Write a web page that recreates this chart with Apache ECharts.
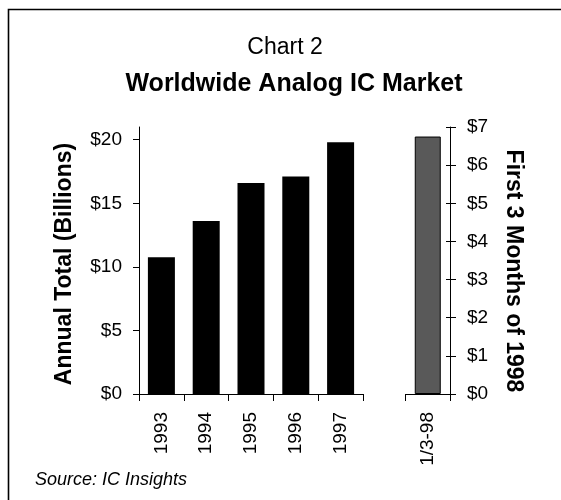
<!DOCTYPE html>
<html>
<head>
<meta charset="utf-8">
<script src="https://cdn.jsdelivr.net/npm/echarts@6/dist/echarts.min.js"></script>
<style>
  html, body { margin: 0; padding: 0; background: #fff; }
  #chart { width: 561px; height: 500px; }
</style>
</head>
<body>
<div id="chart"></div>
<script>
// Annual worldwide analog IC sales, billions of dollars
const years = ['1993', '1994', '1995', '1996', '1997'];
const annualTotals = [10.75, 13.6, 16.6, 17.1, 19.8];
const annualTicks = [0, 5, 10, 15, 20];

// First quarter of 1998
const quarterLabels = ['1/3-98'];
const quarterTotals = [6.75];

const FONT = '"Liberation Sans", Arial, Helvetica, sans-serif';
const money = v => '$' + v;

const chart = echarts.init(document.getElementById('chart'), null, { renderer: 'canvas' });

const baseLabel = { color: '#000', fontFamily: FONT, fontSize: 19 };
const axisLine = { show: true, lineStyle: { color: '#000', width: 1 } };

chart.setOption({
  animation: false,
  backgroundColor: '#fff',
  grid: [
    { left: 139, top: 127, width: 224, height: 267 },
    { left: 405.5, top: 127, width: 44.5, height: 267 }
  ],
  xAxis: [
    {
      type: 'category', gridIndex: 0, data: years,
      axisLine: axisLine,
      axisTick: { show: true, length: 7, lineStyle: { color: '#000' } },
      axisLabel: Object.assign({ rotate: 90, margin: 18 }, baseLabel),
      splitLine: { show: false }
    },
    {
      type: 'category', gridIndex: 1, data: quarterLabels,
      axisLine: axisLine,
      axisTick: { show: true, length: 7, lineStyle: { color: '#000' } },
      axisLabel: Object.assign({ rotate: 90, margin: 18 }, baseLabel),
      splitLine: { show: false }
    }
  ],
  yAxis: [
    {
      type: 'value', gridIndex: 0, min: 0, max: 21,
      axisLine: axisLine,
      axisTick: { show: true, length: 6, customValues: annualTicks, lineStyle: { color: '#000' } },
      axisLabel: Object.assign({ margin: 17, formatter: money, customValues: annualTicks }, baseLabel),
      splitLine: { show: false }
    },
    {
      type: 'value', gridIndex: 1, position: 'right', min: 0, max: 7, interval: 1,
      axisLine: axisLine,
      axisTick: { show: true, length: 6, lineStyle: { color: '#000' } },
      axisLabel: Object.assign({ margin: 17, formatter: money }, baseLabel),
      splitLine: { show: false }
    },
    {
      // inner half of the crossing ticks on the quarterly axis
      type: 'value', gridIndex: 1, position: 'right', min: 0, max: 7, interval: 1,
      axisLine: { show: false },
      axisTick: { show: true, inside: true, length: 4, lineStyle: { color: '#000' } },
      axisLabel: { show: false },
      splitLine: { show: false }
    }
  ],
  series: [
    {
      type: 'bar', xAxisIndex: 0, yAxisIndex: 0, data: annualTotals,
      barWidth: 27,
      itemStyle: { color: '#000' }
    },
    {
      type: 'bar', xAxisIndex: 1, yAxisIndex: 1, data: quarterTotals,
      barWidth: 26,
      itemStyle: { color: '#595959', borderColor: '#000', borderWidth: 1 }
    }
  ],
  graphic: [
    {
      type: 'rect', silent: true,
      shape: { x: 8.5, y: 9.5, width: 700, height: 700 },
      style: { fill: 'none', stroke: '#000', lineWidth: 1.6 }
    },
    {
      type: 'text', x: 285, y: 48,
      style: { text: 'Chart 2', font: '23px ' + FONT, fill: '#000', textAlign: 'center', textVerticalAlign: 'middle' }
    },
    {
      type: 'text', x: 294, y: 84,
      style: { text: 'Worldwide Analog IC Market', font: 'bold 25px ' + FONT, fill: '#000', textAlign: 'center', textVerticalAlign: 'middle' }
    },
    {
      type: 'text', x: 65, y: 264, rotation: Math.PI / 2,
      style: { text: 'Annual Total (Billions)', font: 'bold 23px ' + FONT, fill: '#000', textAlign: 'center', textVerticalAlign: 'middle' }
    },
    {
      type: 'text', x: 513, y: 271, rotation: -Math.PI / 2,
      style: { text: 'First 3 Months of 1998', font: 'bold 23px ' + FONT, fill: '#000', textAlign: 'center', textVerticalAlign: 'middle' }
    },
    {
      type: 'text', x: 35, y: 480,
      style: { text: 'Source: IC Insights', font: 'italic 18px ' + FONT, fill: '#000', textAlign: 'left', textVerticalAlign: 'middle' }
    }
  ]
});
</script>
</body>
</html>
